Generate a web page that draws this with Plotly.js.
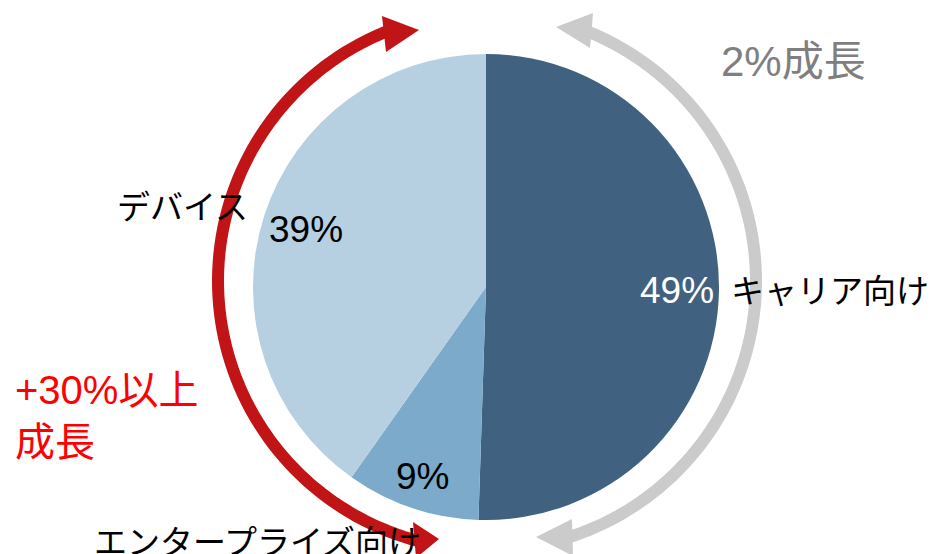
<!DOCTYPE html>
<html>
<head>
<meta charset="utf-8">
<script src="https://cdn.plot.ly/plotly-3.0.1.min.js"></script>
<style>html,body{margin:0;padding:0;background:#fff;}#chart{width:932px;height:554px;}</style>
</head>
<body>
<div id="chart"></div>
<script>
// ---- data ----
const segments = ["キャリア向け", "エンタープライズ向け", "デバイス"];
const shares = [49, 9, 39];
const shareLabels = ["49%", "9%", "39%"];
const growthLeft = "+30%以上<br>成長";
const growthRight = "2%成長";

// ---- styling ----
const W = 932, H = 554;
const FONT = "Liberation Sans, Arial, Noto Sans CJK JP, sans-serif";
const sliceColors = ["#406280", "#7baacb", "#b6d0e1"];
const pctColors = ["#ffffff", "#000000", "#000000"];
const pctRadius = [0.82, 0.86, 0.81];
const pie = {cx: 486, cy: 287, r: 233};

const px = x => x / W;
const py = y => 1 - y / H;

// percentage labels positioned from the data's own angles
const total = shares.reduce((a, b) => a + b, 0);
let cum = 0;
const annotations = [];
shares.forEach((v, i) => {
  const mid = (cum + v / 2) / total * 2 * Math.PI;
  cum += v;
  const x = pie.cx + pctRadius[i] * pie.r * Math.sin(mid);
  const y = pie.cy - pctRadius[i] * pie.r * Math.cos(mid);
  annotations.push({
    xref: "paper", yref: "paper", x: px(x), y: py(y),
    xanchor: "center", yanchor: "middle", showarrow: false,
    text: shareLabels[i], font: {family: FONT, size: 37, color: pctColors[i]}
  });
});

// category labels
const catPos = [
  {x: 729, y: 291, anchor: "left"},
  {x: 92, y: 542, anchor: "left"},
  {x: 115, y: 207, anchor: "left"}
];
segments.forEach((s, i) => {
  annotations.push({
    xref: "paper", yref: "paper", x: px(catPos[i].x), y: py(catPos[i].y),
    xanchor: catPos[i].anchor, yanchor: "middle", showarrow: false,
    text: s, font: {family: FONT, size: 33, color: "#000000"}
  });
});

annotations.push({
  xref: "paper", yref: "paper", x: px(13), y: py(416),
  xanchor: "left", yanchor: "middle", align: "left", showarrow: false,
  text: growthLeft, font: {family: FONT, size: 40, color: "#ff0000"}
});
annotations.push({
  xref: "paper", yref: "paper", x: px(719), y: py(61),
  xanchor: "left", yanchor: "middle", showarrow: false,
  text: growthRight, font: {family: FONT, size: 42, color: "#7f7f7f"}
});

// decorative arrows around the pie
const ring = {cx: 487, cy: 281, R: 269};
function arcPath(a1, a2) {
  let d = "";
  const n = 80;
  for (let k = 0; k <= n; k++) {
    const t = (a1 + (a2 - a1) * k / n) * Math.PI / 180;
    const x = ring.cx + ring.R * Math.sin(t);
    const y = ring.cy - ring.R * Math.cos(t);
    d += (k === 0 ? "M" : "L") + px(x).toFixed(5) + "," + py(y).toFixed(5);
  }
  return d;
}
function triPath(pts) {
  return pts.map((p, k) => (k === 0 ? "M" : "L") + px(p[0]).toFixed(5) + "," + py(p[1]).toFixed(5)).join("") + "Z";
}
const RED = "#c01416", GRAY = "#cbcbcb";
const shapes = [
  {type: "path", xref: "paper", yref: "paper", path: arcPath(194.5, 339), line: {color: RED, width: 12}, fillcolor: "rgba(0,0,0,0)"},
  {type: "path", xref: "paper", yref: "paper", path: triPath([[382, 16], [419, 30], [386, 52]]), line: {width: 0}, fillcolor: RED},
  {type: "path", xref: "paper", yref: "paper", path: triPath([[413, 522], [439, 539], [416, 558]]), line: {width: 0}, fillcolor: RED},
  {type: "path", xref: "paper", yref: "paper", path: arcPath(21.5, 163), line: {color: GRAY, width: 12}, fillcolor: "rgba(0,0,0,0)"},
  {type: "path", xref: "paper", yref: "paper", path: triPath([[593, 13], [556, 27], [590, 48]]), line: {width: 0}, fillcolor: GRAY},
  {type: "path", xref: "paper", yref: "paper", path: triPath([[572, 519], [536, 537], [573, 556]]), line: {width: 0}, fillcolor: GRAY}
];

const data = [{
  type: "pie",
  labels: segments,
  values: shares,
  sort: false,
  direction: "clockwise",
  rotation: 0,
  textinfo: "none",
  hoverinfo: "label+percent",
  marker: {colors: sliceColors, line: {width: 0}},
  domain: {x: [px(pie.cx - pie.r), px(pie.cx + pie.r)], y: [py(pie.cy + pie.r), py(pie.cy - pie.r)]},
  showlegend: false
}];

const layout = {
  width: W, height: H,
  margin: {l: 0, r: 0, t: 0, b: 0},
  paper_bgcolor: "#ffffff",
  plot_bgcolor: "#ffffff",
  showlegend: false,
  annotations: annotations,
  shapes: shapes
};

Plotly.newPlot("chart", data, layout, {displayModeBar: false, staticPlot: true});
</script>
</body>
</html>
